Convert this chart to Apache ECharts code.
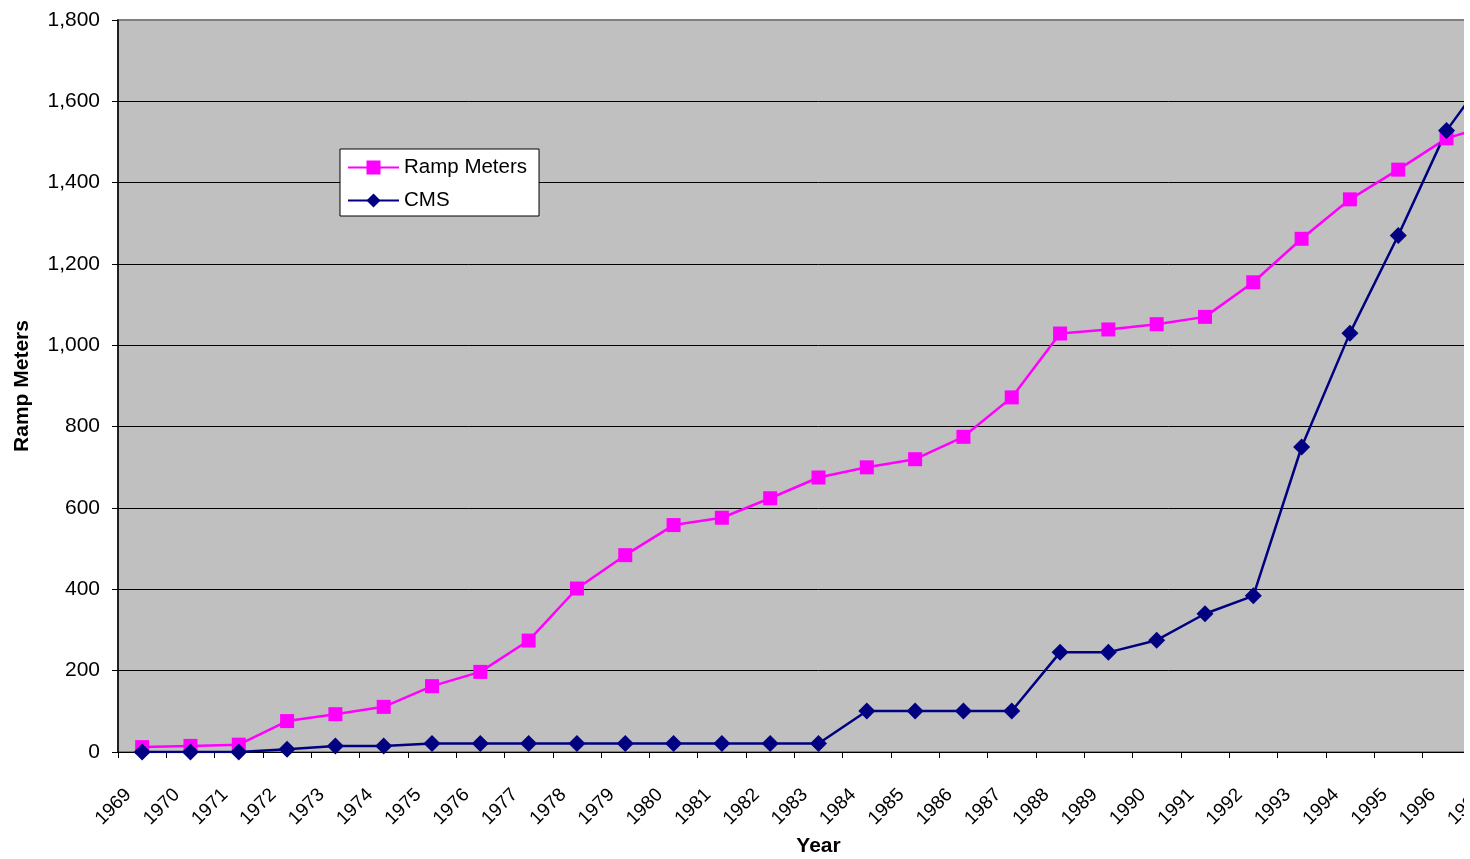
<!DOCTYPE html>
<html>
<head>
<meta charset="utf-8">
<title>Ramp Meters and CMS, 1969-1997</title>
<script src="https://cdn.jsdelivr.net/npm/echarts@6/dist/echarts.min.js"></script>
<style>
  html, body { margin: 0; padding: 0; background: #fff; overflow: hidden; }
  #frame { width: 1464px; height: 859px; overflow: hidden; }
  #chart { width: 1530px; height: 859px; }
</style>
</head>
<body>
<div id="frame"><div id="chart"></div></div>
<script>
// Deployment counts by year
const years = ['1969','1970','1971','1972','1973','1974','1975','1976','1977','1978',
  '1979','1980','1981','1982','1983','1984','1985','1986','1987','1988',
  '1989','1990','1991','1992','1993','1994','1995','1996','1997'];

const rampMeters = [12, 15, 18, 76, 93, 111, 162, 197, 274, 402,
  484, 558, 576, 624, 675, 700, 720, 775, 872, 1029,
  1039, 1052, 1070, 1155, 1262, 1359, 1432, 1509, 1545];

const cms = [0, 0, 0, 7, 15, 15, 21, 21, 21, 21,
  21, 21, 21, 21, 21, 101, 101, 101, 101, 245,
  245, 275, 340, 384, 750, 1030, 1270, 1528, 1691];

const yTicks = [0, 200, 400, 600, 800, 1000, 1200, 1400, 1600, 1800];

const FONT = "'Liberation Sans', Arial, sans-serif";

const chart = echarts.init(document.getElementById('chart'), null, { renderer: 'canvas' });

// one colour per horizontal gridline; the top one is the plot frame
const gridLineColors = yTicks.map((v, i) => i === yTicks.length - 1 ? '#808080' : '#000000');

chart.setOption({
  animation: false,
  backgroundColor: '#ffffff',
  grid: {
    left: 118, top: 20, right: 11, bottom: 107,
    show: true,
    backgroundColor: '#C0C0C0',
    borderColor: '#808080',
    borderWidth: 2,
    outerBoundsMode: 'none'
  },
  legend: {
    data: ['Ramp Meters', 'CMS'],
    orient: 'vertical',
    left: 340, top: 149,
    padding: [8, 12, 5, 7],
    itemWidth: 51, itemHeight: 17.5, itemGap: 12,
    backgroundColor: '#ffffff',
    borderColor: '#000000', borderWidth: 1,
    textStyle: { fontFamily: FONT, fontSize: 20.5, color: '#000' }
  },
  xAxis: {
    type: 'category',
    data: years,
    boundaryGap: true,
    name: 'Year',
    nameLocation: 'middle',
    nameGap: 83,
    nameTextStyle: { fontFamily: FONT, fontSize: 21, fontWeight: 'bold', color: '#000' },
    axisLine: { show: true, lineStyle: { color: '#000', width: 1 } },
    axisTick: { show: true, length: 6, interval: 0, lineStyle: { color: '#000', width: 1 } },
    axisLabel: {
      interval: 0, rotate: 45, margin: 26,
      padding: [0, 19.5, 41, 0],
      fontFamily: FONT, fontSize: 19, color: '#000'
    },
    splitLine: { show: false }
  },
  yAxis: {
    type: 'value',
    min: yTicks[0], max: yTicks[yTicks.length - 1], interval: 200,
    name: 'Ramp Meters',
    nameLocation: 'middle',
    nameGap: 85,
    nameTextStyle: { fontFamily: FONT, fontSize: 21, fontWeight: 'bold', color: '#000' },
    axisLine: { show: true, lineStyle: { color: '#000', width: 1.5 } },
    axisTick: { show: true, length: 6, lineStyle: { color: '#000', width: 1 } },
    axisLabel: {
      margin: 18,
      fontFamily: FONT, fontSize: 21, color: '#000',
      formatter: v => v.toLocaleString('en-US')
    },
    splitLine: { show: true, lineStyle: { color: gridLineColors, width: 1 } }
  },
  series: [
    {
      name: 'Ramp Meters',
      type: 'line',
      data: rampMeters,
      symbol: 'rect',
      symbolSize: 14,
      showAllSymbol: true,
      lineStyle: { color: '#FF00FF', width: 2.5 },
      itemStyle: { color: '#FF00FF' }
    },
    {
      name: 'CMS',
      type: 'line',
      data: cms,
      symbol: 'diamond',
      symbolSize: 17,
      showAllSymbol: true,
      lineStyle: { color: '#000080', width: 2.5 },
      itemStyle: { color: '#000080' }
    }
  ]
});
</script>
</body>
</html>
